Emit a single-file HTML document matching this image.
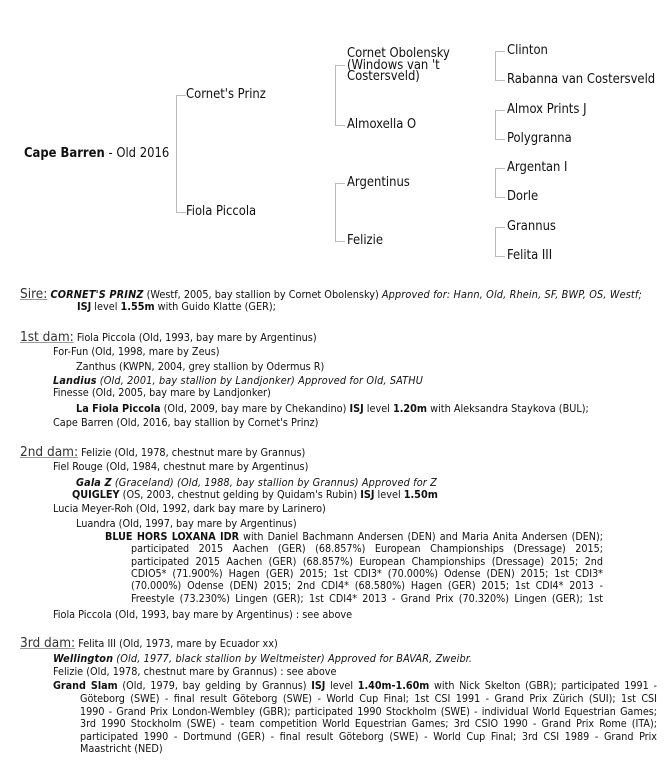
<!DOCTYPE html>
<html><head><meta charset="utf-8"><style>
body{margin:0;width:670px;height:777px;background:#fff;position:relative;overflow:hidden;font-family:"DejaVu Sans Condensed","DejaVu Sans",sans-serif;color:#111}
.p{position:absolute;font-size:12.9px;line-height:12px;white-space:nowrap}
.v{position:absolute;width:1px;background:#bbb}
.h{position:absolute;height:1px;background:#bbb;width:10px}
.t{position:absolute;font-size:10.8px;line-height:12px;white-space:nowrap}
.l{font-size:13.5px;color:#333;text-decoration:underline;text-decoration-color:#999}
.j{position:absolute;font-size:10.7px;line-height:12px;white-space:nowrap;text-align:justify;text-align-last:justify}
i{font-style:italic;letter-spacing:0.15px}
</style></head><body>
<div class="p" style="left:24px;top:148px"><b>Cape Barren</b> - Old 2016</div>
<div class="v" style="left:176px;top:95px;height:117px"></div>
<div class="h" style="left:176px;top:95px"></div><div class="h" style="left:176px;top:212px"></div>
<div class="p" style="left:186px;top:89px">Cornet's Prinz</div>
<div class="p" style="left:186px;top:206px">Fiola Piccola</div>
<div class="v" style="left:335px;top:65px;height:60px"></div>
<div class="h" style="left:335px;top:65px"></div><div class="h" style="left:335px;top:125px"></div>
<div class="p" style="left:347px;top:48px;line-height:11.5px">Cornet Obolensky<br>(Windows van 't<br>Costersveld)</div>
<div class="p" style="left:347px;top:119px">Almoxella O</div>
<div class="v" style="left:335px;top:183px;height:58px"></div>
<div class="h" style="left:335px;top:183px"></div><div class="h" style="left:335px;top:241px"></div>
<div class="p" style="left:347px;top:177px">Argentinus</div>
<div class="p" style="left:347px;top:235px">Felizie</div>
<div class="v" style="left:495px;top:51px;height:29px"></div><div class="h" style="left:495px;top:51px"></div><div class="h" style="left:495px;top:80px"></div>
<div class="v" style="left:495px;top:110px;height:29px"></div><div class="h" style="left:495px;top:110px"></div><div class="h" style="left:495px;top:139px"></div>
<div class="v" style="left:495px;top:168px;height:29px"></div><div class="h" style="left:495px;top:168px"></div><div class="h" style="left:495px;top:197px"></div>
<div class="v" style="left:495px;top:227px;height:29px"></div><div class="h" style="left:495px;top:227px"></div><div class="h" style="left:495px;top:256px"></div>
<div class="p" style="left:507px;top:45px">Clinton</div>
<div class="p" style="left:507px;top:74px">Rabanna van Costersveld</div>
<div class="p" style="left:507px;top:104px">Almox Prints J</div>
<div class="p" style="left:507px;top:133px">Polygranna</div>
<div class="p" style="left:507px;top:162px">Argentan I</div>
<div class="p" style="left:507px;top:191px">Dorle</div>
<div class="p" style="left:507px;top:221px">Grannus</div>
<div class="p" style="left:507px;top:250px">Felita III</div>

<div class="t" style="left:20px;top:288px"><span class="l">Sire:</span> <b><i>CORNET'S PRINZ</i></b> (Westf, 2005, bay stallion by Cornet Obolensky) <i>Approved for: Hann, Old, Rhein, SF, BWP, OS, Westf;</i></div>
<div class="t" style="left:77px;top:301px"><b>ISJ</b> level <b>1.55m</b> with Guido Klatte (GER);</div>

<div class="t" style="left:20px;top:331px"><span class="l">1st dam:</span> Fiola Piccola (Old, 1993, bay mare by Argentinus)</div>
<div class="t" style="left:53px;top:346px">For-Fun (Old, 1998, mare by Zeus)</div>
<div class="t" style="left:76px;top:361px">Zanthus (KWPN, 2004, grey stallion by Odermus R)</div>
<div class="t" style="left:53px;top:375px"><b><i>Landius</i></b> <i>(Old, 2001, bay stallion by Landjonker) Approved for Old, SATHU</i></div>
<div class="t" style="left:53px;top:387px">Finesse (Old, 2005, bay mare by Landjonker)</div>
<div class="t" style="left:76px;top:403px"><b>La Fiola Piccola</b> (Old, 2009, bay mare by Chekandino) <b>ISJ</b> level <b>1.20m</b> with Aleksandra Staykova (BUL);</div>
<div class="t" style="left:53px;top:417px">Cape Barren (Old, 2016, bay stallion by Cornet's Prinz)</div>

<div class="t" style="left:20px;top:446px"><span class="l">2nd dam:</span> Felizie (Old, 1978, chestnut mare by Grannus)</div>
<div class="t" style="left:53px;top:461px">Fiel Rouge (Old, 1984, chestnut mare by Argentinus)</div>
<div class="t" style="left:76px;top:477px"><b><i>Gala Z</i></b> <i>(Graceland) (Old, 1988, bay stallion by Grannus) Approved for Z</i></div>
<div class="t" style="left:72px;top:489px"><b>QUIGLEY</b> (OS, 2003, chestnut gelding by Quidam's Rubin) <b>ISJ</b> level <b>1.50m</b></div>
<div class="t" style="left:53px;top:503px">Lucia Meyer-Roh (Old, 1992, dark bay mare by Larinero)</div>
<div class="t" style="left:76px;top:518px">Luandra (Old, 1997, bay mare by Argentinus)</div>
<div class="j" style="left:105px;top:531px;width:498px"><b>BLUE HORS LOXANA IDR</b> with Daniel Bachmann Andersen (DEN) and Maria Anita Andersen (DEN);</div>
<div class="j" style="left:131px;top:543px;width:472px">participated 2015 Aachen (GER) (68.857%) European Championships (Dressage) 2015;</div>
<div class="j" style="left:131px;top:556px;width:472px">participated 2015 Aachen (GER) (68.857%) European Championships (Dressage) 2015; 2nd</div>
<div class="j" style="left:131px;top:568px;width:472px">CDIO5* (71.900%) Hagen (GER) 2015; 1st CDI3* (70.000%) Odense (DEN) 2015; 1st CDI3*</div>
<div class="j" style="left:131px;top:580px;width:472px">(70.000%) Odense (DEN) 2015; 2nd CDI4* (68.580%) Hagen (GER) 2015; 1st CDI4* 2013 -</div>
<div class="j" style="left:131px;top:593px;width:472px">Freestyle (73.230%) Lingen (GER); 1st CDI4* 2013 - Grand Prix (70.320%) Lingen (GER); 1st</div>
<div class="t" style="left:53px;top:609px">Fiola Piccola (Old, 1993, bay mare by Argentinus) : see above</div>

<div class="t" style="left:20px;top:637px"><span class="l">3rd dam:</span> Felita III (Old, 1973, mare by Ecuador xx)</div>
<div class="t" style="left:53px;top:653px"><b><i>Wellington</i></b> <i>(Old, 1977, black stallion by Weltmeister) Approved for BAVAR, Zweibr.</i></div>
<div class="t" style="left:53px;top:666px">Felizie (Old, 1978, chestnut mare by Grannus) : see above</div>
<div class="j" style="left:53px;top:680px;width:604px"><b>Grand Slam</b> (Old, 1979, bay gelding by Grannus) <b>ISJ</b> level <b>1.40m-1.60m</b> with Nick Skelton (GBR); participated 1991 -</div>
<div class="j" style="left:80px;top:693px;width:577px">Göteborg (SWE) - final result Göteborg (SWE) - World Cup Final; 1st CSI 1991 - Grand Prix Zürich (SUI); 1st CSI</div>
<div class="j" style="left:80px;top:706px;width:577px">1990 - Grand Prix London-Wembley (GBR); participated 1990 Stockholm (SWE) - individual World Equestrian Games;</div>
<div class="j" style="left:80px;top:718px;width:577px">3rd 1990 Stockholm (SWE) - team competition World Equestrian Games; 3rd CSIO 1990 - Grand Prix Rome (ITA);</div>
<div class="j" style="left:80px;top:731px;width:577px">participated 1990 - Dortmund (GER) - final result Göteborg (SWE) - World Cup Final; 3rd CSI 1989 - Grand Prix</div>
<div class="t" style="left:80px;top:743px">Maastricht (NED)</div>
</body></html>
